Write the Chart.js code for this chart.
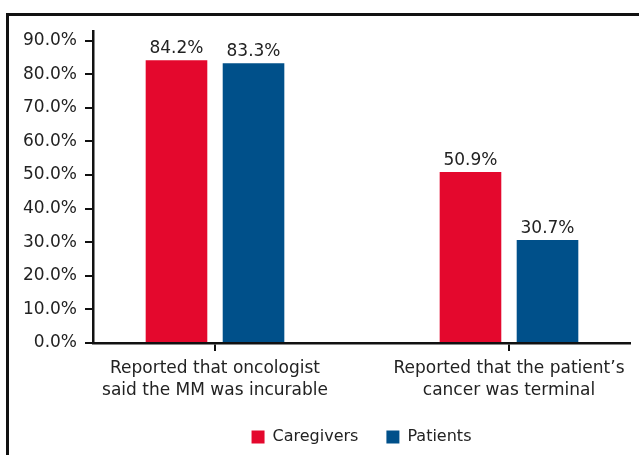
<!DOCTYPE html>
<html>
<head>
<meta charset="utf-8">
<script src="https://cdn.jsdelivr.net/npm/chart.js@4"></script>
<style>
  html, body { margin: 0; padding: 0; background: #fff; }
  #wrap { position: relative; width: 639px; height: 455px; overflow: hidden; }
  #c { position: absolute; left: 0; top: 0; }
  #frame { position: absolute; left: 6px; top: 13px; width: 700px; height: 500px;
           border-top: 3px solid #111; border-left: 3px solid #111; pointer-events: none; }
</style>
</head>
<body>
<div id="wrap">
  <canvas id="c" width="639" height="455"></canvas>
  <div id="frame"></div>
</div>
<script>
const categories = [
  ["Reported that oncologist", "said the MM was incurable"],
  ["Reported that the patient\u2019s", "cancer was terminal"]
];
const seriesNames = ["Caregivers", "Patients"];
const caregivers = [84.2, 50.9];
const patients = [83.3, 30.7];
const yTickValues = [0, 10, 20, 30, 40, 50, 60, 70, 80, 90];

const colors = ["#E4082D", "#00508A"];

Chart.defaults.font.family = "'DejaVu Sans', sans-serif";
Chart.defaults.color = "#222";

const toPoints = arr => arr.map((v, i) => ({ x: i, y: v }));
const fmt = v => v.toFixed(1) + "%";

const valueLabels = {
  id: "valueLabels",
  afterDatasetsDraw(chart) {
    const ctx = chart.ctx;
    ctx.save();
    ctx.font = "17px 'DejaVu Sans', sans-serif";
    ctx.fillStyle = "#222";
    ctx.textAlign = "center";
    ctx.textBaseline = "alphabetic";
    chart.data.datasets.forEach((ds, di) => {
      const meta = chart.getDatasetMeta(di);
      meta.data.forEach((el, i) => {
        ctx.fillText(fmt(ds.data[i].y), el.x, el.y - 7);
      });
    });
    ctx.restore();
  }
};

new Chart(document.getElementById("c"), {
  type: "bar",
  data: {
    datasets: [
      { label: seriesNames[0], data: toPoints(caregivers), backgroundColor: colors[0], borderWidth: 0 },
      { label: seriesNames[1], data: toPoints(patients), backgroundColor: colors[1], borderWidth: 0 }
    ]
  },
  options: {
    responsive: false,
    animation: false,
    devicePixelRatio: 1,
    categoryPercentage: 0.524,
    barPercentage: 0.8,
    layout: { padding: { left: 23, right: 9, top: 31, bottom: 0 } },
    plugins: {
      tooltip: { enabled: false },
      legend: {
        position: "bottom",
        fullSize: false,
        labels: {
          boxWidth: 13,
          boxHeight: 13,
          padding: 28,
          color: "#222",
          font: { size: 16 }
        }
      }
    },
    scales: {
      x: {
        type: "linear",
        min: -0.415,
        max: 1.4116,
        offset: false,
        afterBuildTicks: s => { s.ticks = categories.map((_, i) => ({ value: i })); },
        afterFit: s => { s.height = 58; },
        ticks: {
          callback: (v, i) => categories[i],
          maxRotation: 0,
          autoSkip: false,
          padding: 6.6,
          color: "#222",
          font: { size: 17, lineHeight: 1.28 }
        },
        grid: { offset: false, drawOnChartArea: false, drawTicks: true, tickLength: 8, tickWidth: 2, tickColor: "#111", color: "#111", lineWidth: 2 },
        border: { display: true, color: "#111", width: 2.5 }
      },
      y: {
        min: 0,
        max: 92.9,
        afterBuildTicks: s => { s.ticks = yTickValues.map(v => ({ value: v })); },
        afterFit: s => { s.width = 70; },
        ticks: {
          callback: v => fmt(v),
          padding: 8,
          color: "#222",
          font: { size: 17 }
        },
        grid: { drawOnChartArea: false, drawTicks: true, tickLength: 8, tickWidth: 2, tickColor: "#111", color: "#111", lineWidth: 2 },
        border: { display: true, color: "#111", width: 2.5 }
      }
    }
  },
  plugins: [valueLabels]
});
</script>
</body>
</html>
